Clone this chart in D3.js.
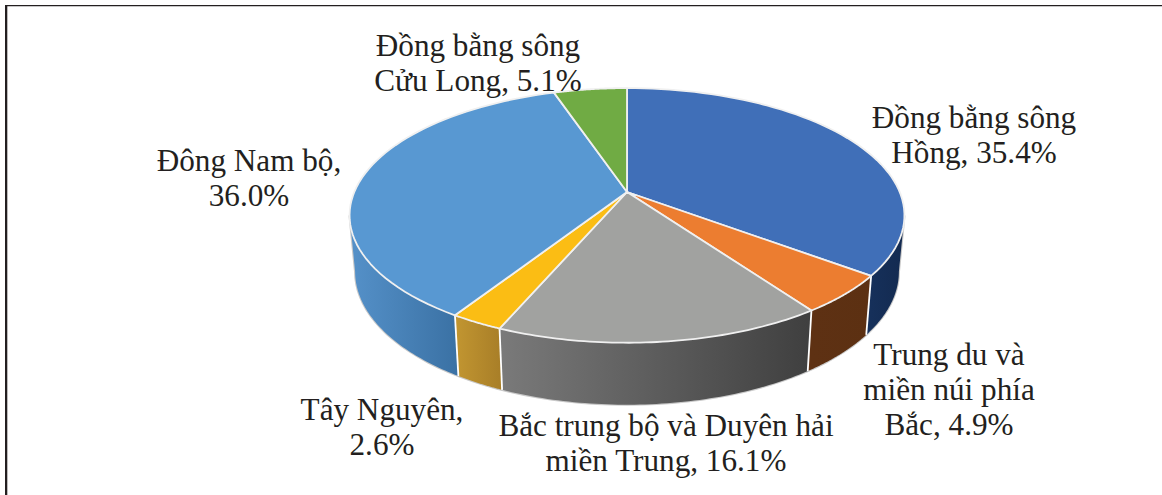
<!DOCTYPE html>
<html><head><meta charset="utf-8">
<script src="https://cdn.jsdelivr.net/npm/d3@7/dist/d3.min.js"></script>
<style>html,body{margin:0;padding:0;background:#fff;overflow:hidden}svg{display:block}</style>
</head><body><svg id="c" width="1162" height="495"></svg>
<script>
const categories = ["Đồng bằng sông Hồng","Trung du và miền núi phía Bắc","Bắc trung bộ và Duyên hải miền Trung","Tây Nguyên","Đông Nam bộ","Đồng bằng sông Cửu Long"];
const values = [35.4,4.9,16.1,2.6,36.0,5.1];
const topColors = ["#406fb8","#ec7d30","#a1a2a0","#fbbd14","#5898d2","#70ab44"];
const wallFrom = ["#16305a","#5e3113","#7a7a7a","#c29631","#5591c9","#70ab44"];
const wallTo   = ["#132a50","#5c3012","#3f3f3f","#a97f28","#3b72a5","#70ab44"];
const labelLines = [["Đồng bằng sông","Hồng, 35.4%"],["Trung du và","miền núi phía","Bắc, 4.9%"],["Bắc trung bộ và Duyên hải","miền Trung, 16.1%"],["Tây Nguyên,","2.6%"],["Đông Nam bộ,","36.0%"],["Đồng bằng sông","Cửu Long, 5.1%"]];
const labelCenter = [[974,117.5],[949,354.5],[666,425.5],[382,410],[249,160.5],[478,46]];

const svg = d3.select("#c");
const cx=627, cy=192, Rx=272.7, Ry=123, k=0.184, sx=0.98, sy=1.045, dy=55.2;
const proj=(a)=>{const u=Math.sin(a),v=-Math.cos(a),w=1/(1-k*v);return [Rx*u*w,Ry*v*w];};
const topPt=a=>{const p=proj(a);return [cx+p[0],cy+p[1]];};
const botPt=a=>{const p=proj(a);return [cx+p[0]*sx,cy+dy+p[1]*sy];};
const line=d3.line();
const arcs=d3.pie().sort(null).value(d=>d)(values);
const sample=(a0,a1)=>d3.range(0,61).map(i=>a0+(a1-a0)*i/60);
const defs=svg.append("defs");

// frame: open on the right, running off the bottom and right edges
svg.append("path").attr("d","M6.2,495V5.7H1162").attr("fill","none").attr("stroke","#231f20").attr("stroke-width",1.3);
svg.append("rect").attr("x",5).attr("y",5).attr("width",2.3).attr("height",490).attr("fill","#231f20");

// walls
const sideA=100.6*Math.PI/180, sideB=2*Math.PI-sideA;
const walls=arcs.map((d,i)=>({i,a0:Math.max(d.startAngle,sideA),a1:Math.min(d.endAngle,sideB)})).filter(d=>d.a1>d.a0);
walls.forEach(d=>{
  const xs=sample(d.a0,d.a1).map(a=>topPt(a)[0]);
  const g=defs.append("linearGradient").attr("id","w"+d.i).attr("gradientUnits","userSpaceOnUse")
    .attr("x1",d3.min(xs)).attr("x2",d3.max(xs)).attr("y1",0).attr("y2",0);
  g.append("stop").attr("offset",0).attr("stop-color",wallFrom[d.i]);
  g.append("stop").attr("offset",1).attr("stop-color",wallTo[d.i]);
});
const outer=sample(sideA,sideB);
svg.append("path").attr("d",line([topPt(sideA),...outer.map(botPt),topPt(sideB)]))
  .attr("fill","none").attr("stroke","#c9c9c9").attr("stroke-width",2.2);
walls.forEach(d=>{
  const s=sample(d.a0,d.a1);
  svg.append("path").attr("d",line([...s.map(topPt),...s.slice().reverse().map(botPt)])+"Z")
    .attr("fill",`url(#w${d.i})`);
});
// white seams between wall faces
arcs.forEach(d=>{
  if(d.startAngle>sideA&&d.startAngle<sideB)
    svg.append("path").attr("d",line([topPt(d.startAngle),botPt(d.startAngle)])).attr("stroke","#fff").attr("stroke-width",1.8).attr("fill","none");
});

// top faces
arcs.forEach((d,i)=>{
  svg.append("path").attr("d",line([[cx,cy],...sample(d.startAngle,d.endAngle).map(topPt)])+"Z")
    .attr("fill",topColors[i]).attr("stroke","#f0f0f0").attr("stroke-width",1.8).attr("stroke-linejoin","round");
});

// labels
const fs=31.2, lh=35.3;
labelLines.forEach((ls,i)=>{
  const t=svg.append("text").attr("text-anchor","middle").attr("font-family","'Liberation Serif',serif")
    .attr("font-size",fs).attr("fill","#231f20");
  ls.forEach((s,j)=>t.append("tspan").attr("x",labelCenter[i][0]).attr("y",labelCenter[i][1]+j*lh+10).text(s));
});
</script></body></html>
